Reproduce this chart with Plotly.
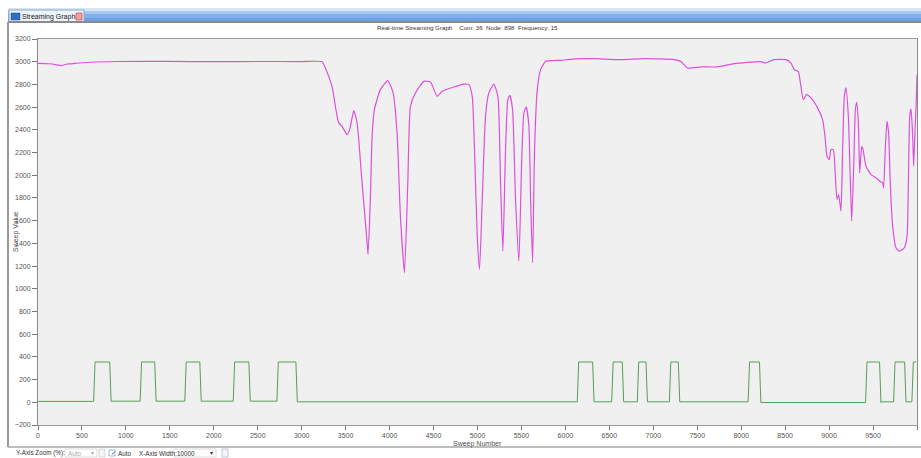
import plotly.graph_objects as go

# ---------------- data ----------------
# magenta series (Sweep Number, Sweep Value)
mag_x = [0, 120, 200, 262, 330, 420, 600, 900, 1500, 2000, 2500, 3000, 3231,
         3269, 3345, 3383, 3421, 3459, 3516, 3546, 3592, 3630, 3687, 3744, 3755,
         3781, 3801, 3827, 3895, 3979, 4040, 4085, 4123, 4169, 4207, 4237, 4294,
         4389, 4465, 4541, 4598, 4731, 4845, 4902, 4940, 4966, 4997, 5023, 5054,
         5091, 5129, 5186, 5232, 5262, 5289, 5319, 5345, 5368, 5399, 5433, 5471,
         5501, 5528, 5555, 5585, 5604, 5627, 5649, 5680, 5718, 5775, 5850, 5946,
         6022, 6211, 6325, 6629, 6894, 7236, 7312, 7388, 7540, 7730, 7919, 8223,
         8280, 8375, 8508, 8565, 8603, 8649, 8679, 8706, 8744, 8793, 8869, 8926,
         8953, 8976, 9002, 9021, 9048, 9071, 9090, 9109, 9135, 9154, 9173, 9192,
         9219, 9242, 9257, 9280, 9299, 9314, 9333, 9348, 9371, 9386, 9420, 9477,
         9533, 9579, 9609, 9620, 9639, 9658, 9677, 9696, 9723, 9761, 9799, 9856,
         9887, 9902, 9917, 9932, 9951, 9962, 9977, 9992, 10000]
mag_y = [2985, 2982, 2975, 2965, 2980, 2985, 2995, 3002, 3003, 3000, 3002, 3001, 3000,
         2945, 2783, 2607, 2461, 2431, 2358, 2402, 2569, 2461, 1933, 1405, 1302,
         1786, 2343, 2578, 2754, 2833, 2725, 2372, 1639, 1141, 1933, 2607, 2725,
         2827, 2821, 2695, 2739, 2777, 2803, 2798, 2695, 2226, 1463, 1170, 1786,
         2519, 2725, 2803, 2695, 1933, 1331, 2226, 2666, 2704, 2578, 1786, 1243,
         2079, 2549, 2602, 2431, 1786, 1229, 2226, 2754, 2930, 3003, 3010, 3012,
         3018, 3027, 3027, 3018, 3027, 3018, 3003, 2945, 2954, 2954, 2983, 3000,
         2989, 3018, 3018, 2989, 2930, 2915, 2783, 2666, 2710, 2681, 2593, 2490,
         2343, 2167, 2138, 2226, 2226, 1991, 1786, 1830, 1683, 2226, 2695, 2769,
         2519, 1933, 1595, 2079, 2578, 2642, 2461, 2021, 2255, 2226, 2079, 2006,
         1977, 1947, 1933, 1889, 2226, 2475, 2373, 1933, 1551, 1361, 1331, 1361,
         1463, 1933, 2519, 2584, 2343, 2079, 2373, 2666, 2886]

# green pulse series
pulse_on = [641, 1170, 1678, 2229, 2726, 6143, 6535, 6826, 7191, 8087, 9423, 9742, 9950]
pulse_off = [824, 1336, 1849, 2407, 2942, 6318, 6655, 6925, 7293, 8216, 9582, 9867, 10000]
pulse_high = 355
low_before = [8, 10, 10, 10, 10, 4, 4, 4, 4, 4, -2, 4, 4]

y_ticks = [-200, 0, 200, 400, 600, 800, 1000, 1200, 1400, 1600, 1800, 2000,
           2200, 2400, 2600, 2800, 3000, 3200]
x_ticks = [0, 500, 1000, 1500, 2000, 2500, 3000, 3500, 4000, 4500, 5000,
           5500, 6000, 6500, 7000, 7500, 8000, 8500, 9000, 9500, 10000]

# build green step line from pulse edges
g_x, g_y = [], []
prev = 0
for on, off, lo in zip(pulse_on, pulse_off, low_before):
    g_x += [prev, on - 8, on + 8, off - 8]
    g_y += [lo, lo, pulse_high, pulse_high]
    if off < 10000:
        g_x += [off + 8]
        g_y += [lo]
    prev = off + 8

# ---------------- figure ----------------
W, H = 921, 458
L, R, T, B = 38, 917, 39, 425  # plot area in pixels


def px(x):
    return (x - L) / (R - L)


def py(y):
    return (B - y) / (B - T)


FONT = "Liberation Sans"
TXT = "#555555"
fig = go.Figure()
fig.add_trace(go.Scatter(x=g_x, y=g_y, mode="lines",
                         line=dict(color="#55a055", width=1), hoverinfo="skip"))
fig.add_trace(go.Scatter(x=mag_x, y=mag_y, mode="lines",
                         line=dict(color="#dc50dc", width=1.2, shape="spline", smoothing=0.5),
                         hoverinfo="skip"))

fig.update_layout(
    width=W, height=H, showlegend=False,
    paper_bgcolor="white", plot_bgcolor="#f0f0f0",
    margin=dict(l=L, r=W - R, t=T, b=H - B, autoexpand=False),
    font=dict(family=FONT, size=7, color=TXT),
    xaxis=dict(range=[0, 10000], tickvals=x_ticks, ticks="outside", ticklen=4,
               tickcolor="#777", showgrid=False, zeroline=False, showline=True,
               linecolor="#999", mirror=True,
               tickfont=dict(family=FONT, size=7, color=TXT)),
    yaxis=dict(range=[-200, 3200], tickvals=y_ticks, ticks="outside", ticklen=5,
               tickcolor="#777", showgrid=False, zeroline=False, showline=True,
               linecolor="#888", mirror=True,
               tickfont=dict(family=FONT, size=7, color=TXT)),
)

shapes = []
# title bar gradient
bands = [(8, 11, "#d6e6f8"), (11, 14, "#a9c9f0"), (14, 18, "#7fb0ea"), (18, 21, "#6aa2e4")]
for y0, y1, c in bands:
    shapes.append(dict(type="rect", xref="paper", yref="paper", x0=px(8), x1=px(W),
                       y0=py(y1), y1=py(y0), fillcolor=c, line=dict(width=0), layer="above"))
# tab
shapes.append(dict(type="rect", xref="paper", yref="paper", x0=px(9), x1=px(84),
                   y0=py(22), y1=py(10), fillcolor="#eef4fc",
                   line=dict(color="#8ea8c8", width=1), layer="above"))
shapes.append(dict(type="rect", xref="paper", yref="paper", x0=px(11), x1=px(20),
                   y0=py(20), y1=py(13), fillcolor="#2f6fc0",
                   line=dict(color="#1f4f90", width=0.5), layer="above"))
shapes.append(dict(type="rect", xref="paper", yref="paper", x0=px(76), x1=px(82),
                   y0=py(20), y1=py(13), fillcolor="#f0a0a0",
                   line=dict(color="#d05050", width=0.8), layer="above"))
# separator lines and borders
shapes.append(dict(type="line", xref="paper", yref="paper", x0=px(8), x1=px(W),
                   y0=py(22), y1=py(22), line=dict(color="#8a8a8a", width=2), layer="above"))
shapes.append(dict(type="line", xref="paper", yref="paper", x0=px(8), x1=px(8),
                   y0=py(22), y1=py(447), line=dict(color="#9a9a9a", width=2), layer="above"))
shapes.append(dict(type="line", xref="paper", yref="paper", x0=px(8), x1=px(W),
                   y0=py(447), y1=py(447), line=dict(color="#a8a8a8", width=1.5), layer="above"))
# bottom controls: boxes
boxes = [(65, 97, 457, 449, "white", "#c8c8c8"),
         (99, 105, 457, 449, "#f4f4f4", "#c8c8c8"),
         (109, 115, 456, 450, "white", "#6a8ab0"),
         (174, 216, 457, 449, "white", "#c8c8c8"),
         (222, 228, 457, 449, "#f4f4f4", "#9ab0cc")]
for x0, x1, y0, y1, fc, lc in boxes:
    shapes.append(dict(type="rect", xref="paper", yref="paper", x0=px(x0), x1=px(x1),
                       y0=py(y0), y1=py(y1), fillcolor=fc,
                       line=dict(color=lc, width=0.6), layer="below"))

anns = []


def text(x, y, s, size=7, color="#333", xanchor="left", angle=0):
    anns.append(dict(xref="paper", yref="paper", x=px(x), y=py(y), text=s,
                     showarrow=False, xanchor=xanchor, yanchor="middle",
                     textangle=angle, borderpad=0,
                     font=dict(family=FONT, size=size, color=color)))


text(21, 16.5, "Streaming Graph", size=7, color="#1a1a1a")
text(467, 28, "Real-time Streaming Graph&nbsp;&nbsp;&nbsp;&nbsp;Com: 36&nbsp;&nbsp;Node: 898&nbsp;&nbsp;Frequency: 15",
     size=6.2, color="#333", xanchor="center")
text(16, 232, "Sweep Value", size=7, color=TXT, xanchor="center", angle=-90)
text(477, 443.5, "Sweep Number", size=7, color=TXT, xanchor="center")
text(15, 453, "Y-Axis Zoom (%):", size=6.3, color="#333")
text(67, 453, "Auto", size=6.3, color="#aaa")
text(90, 453, "▾", size=6, color="#aaa")
text(110, 453, "✓", size=6, color="#2a5a9a")
text(117, 453, "Auto", size=6.3, color="#333")
text(138, 453, "X-Axis Width:", size=6.3, color="#333")
text(176, 453, "10000", size=6.3, color="#333")
text(209, 453, "▾", size=6, color="#333")

fig.update_layout(shapes=shapes, annotations=anns)
fig.write_html("out.html", config={"displayModeBar": False},
               post_script="document.body.style.margin='0';document.body.style.overflow='hidden';")
